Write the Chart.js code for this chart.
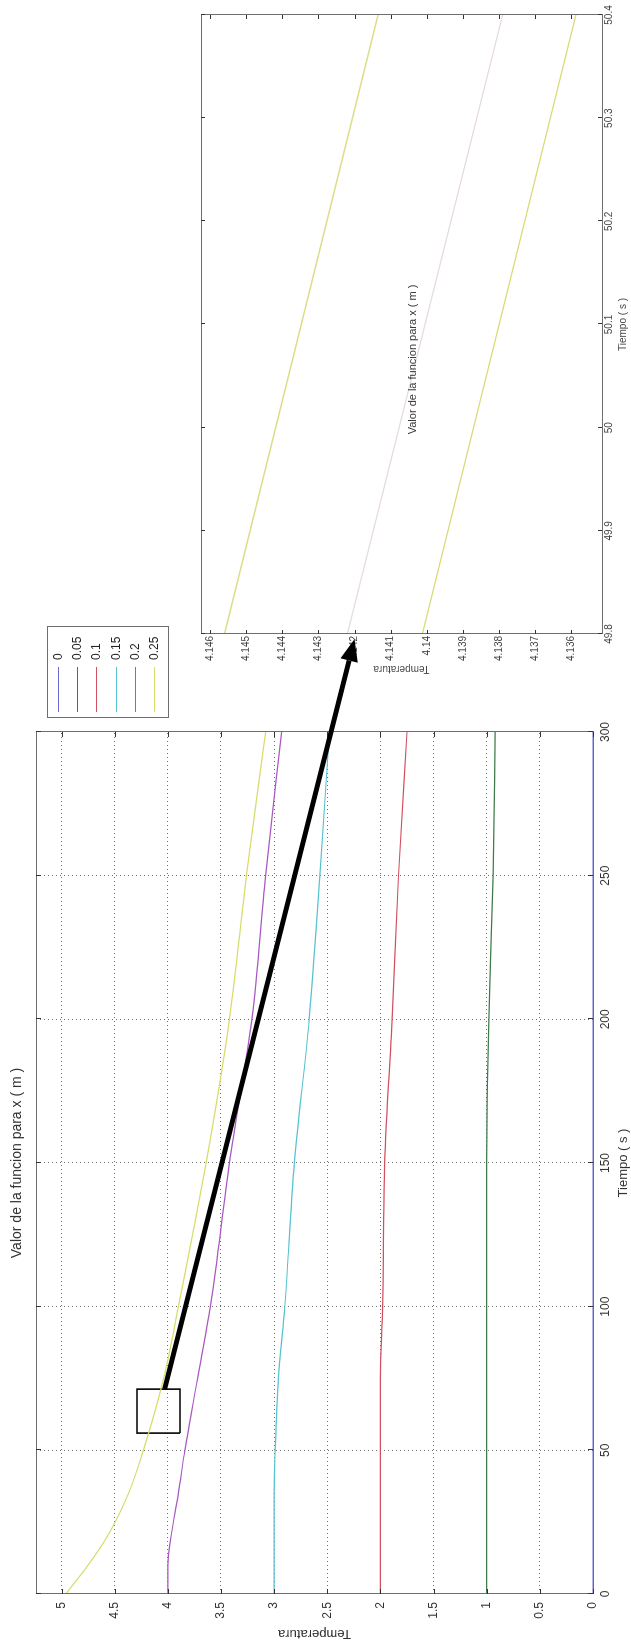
<!DOCTYPE html>
<html><head><meta charset="utf-8">
<script src="https://cdn.jsdelivr.net/npm/chart.js@4.4.1/dist/chart.umd.min.js"></script>
<style>
html,body{margin:0;padding:0;background:#fff;overflow:hidden;width:631px;height:1646px;}
#stage{position:absolute;left:0;top:0;width:1646px;height:631px;transform-origin:0 0;transform:translate(0,1646px) rotate(-90deg);background:#fff;}
canvas{position:absolute;}
#c1{left:0;top:0;}
#c2{left:960px;top:150px;}
#ov{left:0;top:0;pointer-events:none;}
</style></head>
<body>
<div id="stage">
<canvas id="c1" width="1030" height="631"></canvas>
<canvas id="c2" width="686" height="481"></canvas>
<canvas id="ov" width="1646" height="631"></canvas>
</div>
<script>
// ---------- data ----------
const seriesLabels = ['0','0.05','0.1','0.15','0.2','0.25'];
const seriesColors = ['#6a6ad2','#3f7a4a','#d05060','#55c2cf','#a858c0','#d8dc6a'];
const timeMain = [0,10,20,35,50,75,100,150,200,250,300];
const s000 = [0,0,0,0,0,0,0,0,0,0,0];
const s005 = [1,1,1,1,1,1,1,1,0.98,0.94,0.92];
const s010 = [2,2,2,2,2,2,1.98,1.96,1.89,1.83,1.75];
const s015 = [3,3,3,3,2.99,2.96,2.90,2.81,2.67,2.57,2.48];
const s020 = [4,4,3.97,3.90,3.84,3.72,3.60,3.42,3.21,3.08,2.93];
const s025 = [4.96,4.75,4.57,4.37,4.23,4.04,3.90,3.64,3.42,3.26,3.08];
const mainSeries = [s000,s005,s010,s015,s020,s025];
const timeTicks = [0,50,100,150,200,250,300];
const tempTicks = [0,0.5,1,1.5,2,2.5,3,3.5,4,4.5,5];
const tempTickLabels = ['0','0.5','1','1.5','2','2.5','3','3.5','4','4.5','5'];
const zoomBoxT = [56,71.3,71.3,56,56];
const zoomBoxV = [3.885,3.885,4.29,4.29,3.885];

const timeInset = [49.8,50.4];
const insetA = [4.1456,4.14135];
const insetB = [4.1422,4.1379];
const insetC = [4.14012,4.13587];
const insetColors = ['#dcdc8a','#e6dadf','#d9d978'];
const insetTimeTicks = [49.8,49.9,50,50.1,50.2,50.3,50.4];
const insetTimeLabels = ['49.8','49.9','50','50.1','50.2','50.3','50.4'];
const insetTempTicks = [4.136,4.137,4.138,4.139,4.14,4.141,4.142,4.143,4.144,4.145,4.146];
const insetTempLabels = ['4.136','4.137','4.138','4.139','4.14','4.141','4.142','4.143','4.144','4.145','4.146'];

const titleText = 'Valor de la funcion para x ( m )';
const xTitle = 'Tiempo ( s )';
const yTitle = 'Temperatura';
const arrowFrom = {t:71.3, v:4.03};
const arrowTo = {t:49.795, v:4.142};

const FONT = "'Liberation Sans', Arial, sans-serif";
Chart.defaults.font.family = FONT;
Chart.defaults.color = '#333';

function pts(xs, ys){ return xs.map((x,i)=>({x:x,y:ys[i]})); }

// frame + inward ticks (MATLAB box)
const framePlugin = {
  id:'frame',
  afterDraw(chart, args, opts){
    const {ctx, chartArea:a, scales} = chart;
    ctx.save();
    ctx.strokeStyle = '#6e6e6e'; ctx.lineWidth = 1;
    ctx.strokeRect(Math.round(a.left)+0.5, Math.round(a.top)+0.5, Math.round(a.right-a.left), Math.round(a.bottom-a.top));
    const L = opts.len || 5;
    ctx.strokeStyle = '#333';
    ctx.beginPath();
    scales.x.ticks.forEach(t=>{
      const px = Math.round(scales.x.getPixelForValue(t.value))+0.5;
      ctx.moveTo(px,a.bottom); ctx.lineTo(px,a.bottom-L);
      ctx.moveTo(px,a.top); ctx.lineTo(px,a.top+L);
    });
    scales.y.ticks.forEach(t=>{
      const py = Math.round(scales.y.getPixelForValue(t.value))+0.5;
      ctx.moveTo(a.left,py); ctx.lineTo(a.left+L,py);
      ctx.moveTo(a.right,py); ctx.lineTo(a.right-L,py);
    });
    ctx.stroke();
    ctx.restore();
  }
};

const legendPlugin = {
  id:'matlabLegend',
  afterDraw(chart){
    const {ctx, chartArea:a} = chart;
    const ds = chart.data.datasets.filter(d=>!d.isBox);
    const x0 = a.right + 14, y0 = 47, w = 91, h = 121;
    ctx.save();
    ctx.fillStyle = '#fff'; ctx.fillRect(x0,y0,w,h);
    ctx.strokeStyle = '#6e6e6e'; ctx.lineWidth = 1;
    ctx.strokeRect(x0+0.5,y0+0.5,w,h);
    ctx.font = '12px '+FONT; ctx.textBaseline='middle'; ctx.fillStyle='#222';
    ds.forEach((d,i)=>{
      const y = Math.round(y0 + 11 + i*19.2)+0.5;
      ctx.strokeStyle = d.borderColor; ctx.lineWidth = 1;
      ctx.beginPath(); ctx.moveTo(x0+6,y); ctx.lineTo(x0+51,y); ctx.stroke();
      ctx.fillText(d.label, x0+58, y);
    });
    ctx.restore();
  }
};

const insetTitlePlugin = {
  id:'insetTitle',
  afterDraw(chart){
    const {ctx, chartArea:a} = chart;
    ctx.save();
    ctx.font = '11px '+FONT; ctx.fillStyle='#333'; ctx.textAlign='center'; ctx.textBaseline='middle';
    ctx.fillText(titleText, (a.left+a.right)/2 - 35, a.top + 212);
    ctx.restore();
  }
};

const mainDatasets = mainSeries.map((s,i)=>({
  label: seriesLabels[i], data: pts(timeMain, s), borderColor: seriesColors[i],
  borderWidth: 1.2, pointRadius: 0, fill:false, tension: 0.35, cubicInterpolationMode:'monotone'
}));
mainDatasets.push({label:'zoom', isBox:true, data: pts(zoomBoxT, zoomBoxV), borderColor:'#000', borderWidth:1.6, pointRadius:0, tension:0});

const main = new Chart(document.getElementById('c1'), {
  type:'line',
  data:{datasets: mainDatasets},
  plugins:[framePlugin, legendPlugin],
  options:{
    responsive:false, animation:false, devicePixelRatio:1,
    layout:{padding:{left:0,right:116,top:0,bottom:0}},
    plugins:{
      legend:{display:false}, tooltip:{enabled:false},
      title:{display:true, text:titleText, fullSize:false, color:'#333', font:{size:14, weight:'normal'}, padding:{top:8.6,bottom:10.6}},
      frame:{len:5}
    },
    scales:{
      x:{type:'linear', min:0, max:300,
        afterBuildTicks:s=>{ s.ticks = timeTicks.map(v=>({value:v})); },
        afterFit:s=>{ s.height = 38; },
        grid:{color:'rgba(60,60,60,0.75)', lineWidth:1, drawTicks:false},
        border:{display:false, dash:[1,3]},
        ticks:{padding:5, font:{size:12}, color:'#333', maxRotation:0, callback:(v,i)=>String(timeTicks[i])},
        title:{display:true, text:xTitle, font:{size:13}, color:'#333', padding:{top:0,bottom:0.2}}
      },
      y:{type:'linear', min:0, max:5.24,
        afterBuildTicks:s=>{ s.ticks = tempTicks.map(v=>({value:v})); },
        afterFit:s=>{ s.width = 52; },
        grid:{color:'rgba(60,60,60,0.75)', lineWidth:1, drawTicks:false},
        border:{display:false, dash:[1,3]},
        ticks:{padding:8, font:{size:12}, color:'#333', callback:(v,i)=>tempTickLabels[i]},
        title:{display:true, text:yTitle, font:{size:13}, color:'#333', padding:{top:5,bottom:0}}
      }
    }
  }
});

const insetData = [insetA, insetB, insetC];
const inset = new Chart(document.getElementById('c2'), {
  type:'line',
  data:{datasets: insetData.map((s,i)=>({label:'l'+i, data: pts(timeInset, s), borderColor: insetColors[i], borderWidth:1.3, pointRadius:0, tension:0}))},
  plugins:[framePlugin, insetTitlePlugin],
  options:{
    responsive:false, animation:false, devicePixelRatio:1,
    layout:{padding:{left:0,right:15,top:51,bottom:0}},
    plugins:{legend:{display:false}, tooltip:{enabled:false}, frame:{len:4}},
    scales:{
      x:{type:'linear', min:49.8, max:50.4,
        afterBuildTicks:s=>{ s.ticks = insetTimeTicks.map(v=>({value:v})); },
        afterFit:s=>{ s.height = 29; },
        grid:{display:false, drawTicks:false},
        border:{display:false},
        ticks:{padding:1, font:{size:10}, color:'#444', maxRotation:0, callback:(v,i)=>insetTimeLabels[i]},
        title:{display:true, text:xTitle, font:{size:10}, color:'#444', padding:{top:0,bottom:2}}
      },
      y:{type:'linear', min:4.13515, max:4.14625,
        afterBuildTicks:s=>{ s.ticks = insetTempTicks.map(v=>({value:v})); },
        afterFit:s=>{ s.width = 52; },
        grid:{display:false, drawTicks:false},
        border:{display:false},
        ticks:{padding:2, font:{size:10}, color:'#444', callback:(v,i)=>insetTempLabels[i]},
        title:{display:true, text:yTitle, font:{size:10}, color:'#444', padding:{top:11,bottom:0}}
      }
    }
  }
});

// arrow from zoom box (main chart) to the inset chart
(function(){
  const ov = document.getElementById('ov').getContext('2d');
  const c2 = document.getElementById('c2');
  const ox = parseFloat(getComputedStyle(c2).left), oy = parseFloat(getComputedStyle(c2).top);
  const x1 = main.scales.x.getPixelForValue(arrowFrom.t), y1 = main.scales.y.getPixelForValue(arrowFrom.v);
  const x2 = inset.scales.x.getPixelForValue(arrowTo.t)+ox, y2 = inset.scales.y.getPixelForValue(arrowTo.v)+oy;
  const ang = Math.atan2(y2-y1, x2-x1);
  const hl = 22, hw = 9;
  const bx = x2 - hl*Math.cos(ang), by = y2 - hl*Math.sin(ang);
  ov.strokeStyle = '#000'; ov.fillStyle = '#000'; ov.lineWidth = 5; ov.lineCap='butt';
  ov.beginPath(); ov.moveTo(x1,y1); ov.lineTo(bx,by); ov.stroke();
  ov.beginPath(); ov.moveTo(x2,y2);
  ov.lineTo(bx + hw*Math.sin(ang), by - hw*Math.cos(ang));
  ov.lineTo(bx - hw*Math.sin(ang), by + hw*Math.cos(ang));
  ov.closePath(); ov.fill();
})();
</script>
</body></html>
